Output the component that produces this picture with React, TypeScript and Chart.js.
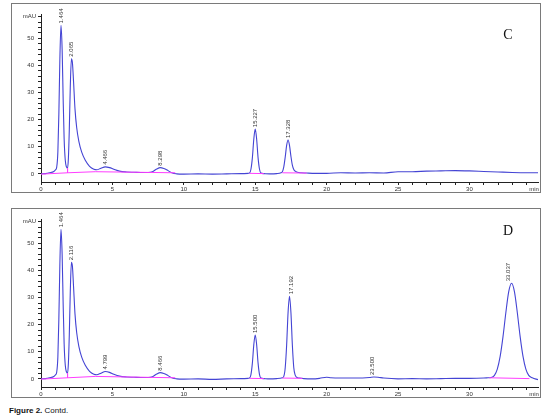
import React, { useEffect, useRef } from 'react';
import { Chart, registerables } from 'chart.js';

Chart.register(...registerables);

// ---------- Panel C data ----------
const timesC = [
  0, 0.3, 0.6, 0.9, 1.02, 1.1, 1.18, 1.25, 1.32, 1.4, 1.48, 1.55, 1.62, 1.7, 1.78, 1.86, 1.92, 1.98,
  2.05, 2.13, 2.2, 2.28, 2.38, 2.5, 2.65, 2.85, 3.1, 3.4, 3.7, 3.9, 4.2, 4.5, 4.8, 5.1, 5.5,
  6.0, 6.5, 7.0, 7.5, 7.8, 8.1, 8.35, 8.6, 8.9, 9.2, 9.5, 10, 11, 12, 13, 14, 14.5, 14.6, 14.7,
  14.8, 14.9, 15.0, 15.1, 15.2, 15.3, 15.4, 15.6, 16.0, 16.5, 16.8, 16.9, 17.0, 17.1, 17.2, 17.3,
  17.4, 17.5, 17.6, 17.7, 17.8, 17.95, 18.2, 18.6, 19, 20, 21, 22, 23, 24, 25, 26, 27, 28, 29, 30,
  31, 32, 33, 34, 34.8,
];
const signalC = [
  0, 0.1, 0.4, 0.9, 1.5, 2.5, 8, 22, 42, 54.8, 46, 28, 13, 5, 2.6, 2.1, 6, 16,
  32, 42.5, 41, 34, 24, 17, 12, 8, 5, 2.8, 1.7, 1.5, 2.1, 2.6, 2.3, 1.7, 1.0,
  0.7, 0.6, 0.5, 0.5, 0.8, 1.8, 2.3, 2.0, 1.2, 0.3, 0.0, -0.1, 0, -0.1, 0, 0.1, 0.2, 0.3, 1.7,
  5.9, 12.8, 16.5, 12.8, 5.9, 1.7, 0.3, 0.1, 0, 0.1, 0.4, 0.8, 2.6, 6.2, 10.5, 12.5,
  10.5, 6.5, 3.2, 1.6, 1.0, 0.6, 0.4, 0.3, 0.2, 0.2, 0.4, 0.3, 0.4, 0.3, 0.8, 0.8, 1.0, 1.1, 1.2, 1.1,
  0.9, 0.7, 0.5, 0.4, 0.4,
];
const baseTimesC = [0, 1.86, 1.86, 1.86, 3.8, 9.4, 9.5, 14.6, 15.6, 15.7, 16.9, 18.6];
const baseC = [-0.1, 0.4, 2.1, 0.4, 0.8, 0.4, null, 0.2, 0.1, null, 0.4, 0.3];
const peakTimesC = [1.4, 2.13, 4.5, 8.35, 15.0, 17.3];
const peakHeightsC = [54.8, 42.5, 2.6, 2.3, 16.5, 12.5];
const peakLabelsC = ['1.464', '2.065', '4.466', '8.298', '15.227', '17.328'];

// ---------- Panel D data ----------
const timesD = [
  0, 0.3, 0.6, 0.9, 1.02, 1.1, 1.18, 1.25, 1.32, 1.4, 1.48, 1.55, 1.62, 1.7, 1.78, 1.86, 1.92, 1.98,
  2.05, 2.13, 2.2, 2.28, 2.38, 2.5, 2.65, 2.85, 3.1, 3.4, 3.7, 3.9, 4.2, 4.5, 4.8, 5.1, 5.5,
  6.0, 6.5, 7.0, 7.5, 7.8, 8.1, 8.35, 8.6, 8.9, 9.2, 9.5, 10, 11, 12, 13, 14, 14.5, 14.6, 14.7,
  14.8, 14.9, 15.0, 15.1, 15.2, 15.3, 15.4, 15.6, 16.0, 16.5, 16.9, 17.0, 17.1, 17.2, 17.3, 17.4,
  17.5, 17.6, 17.7, 17.8, 17.9, 18.1, 18.4, 19, 19.5, 20, 20.3, 21, 22, 23, 23.3, 23.6, 24, 25, 26,
  27, 28, 29, 30, 31, 31.3, 31.5, 31.75, 31.95, 32.15, 32.35, 32.55, 32.75, 32.95, 33.15, 33.35,
  33.55, 33.75, 33.95, 34.15, 34.4, 34.8,
];
const signalD = [
  0, 0.1, 0.4, 0.9, 1.5, 2.5, 8, 22, 42, 55.2, 46, 28, 13, 5, 2.6, 2.1, 6, 16,
  32, 43, 41.5, 34, 24, 17, 12, 8, 5, 2.8, 1.7, 1.5, 2.1, 2.7, 2.4, 1.7, 1.0,
  0.7, 0.6, 0.5, 0.5, 0.8, 1.8, 2.3, 2.0, 1.2, 0.3, 0.0, -0.1, 0, -0.2, 0, 0.1, 0.2, 0.3, 1.6,
  5.8, 12.6, 16.2, 12.6, 5.8, 1.6, 0.3, 0.1, 0, 0.1, 0.4, 0.9, 4.1, 12.5, 24.5, 30.5,
  24.5, 12.5, 4.1, 1.4, 0.6, 0.3, 0.1, 0, 0.2, 0.6, 0.4, 0.3, 0.3, 0.5, 0.7, 0.6, 0.3, 0, 0.1,
  0, 0.1, 0.2, 0.2, 0.3, 0.4, 0.5, 1.3, 3.6, 8.3, 15.6, 24.5, 32.2, 35.3, 32.2, 24.5, 15.6,
  8.3, 3.6, 1.3, 0.4, -0.3, 0.2, 0.2,
];
const baseTimesD = [0, 1.86, 1.86, 1.86, 3.8, 9.4, 9.5, 14.6, 15.6, 15.7, 16.9, 18.3, 18.4, 31.4, 34.2];
const baseD = [-0.1, 0.4, 2.1, 0.4, 0.9, 0.4, null, 0.2, 0.1, null, 0.3, 0.2, null, 0.4, 0.1];
const peakTimesD = [1.4, 2.13, 4.5, 8.35, 15.0, 17.5, 23.2, 32.75];
const peakHeightsD = [55.2, 43, 2.7, 2.3, 16.2, 30.5, 0.7, 35.3];
const peakLabelsD = ['1.464', '2.116', '4.799', '8.466', '15.500', '17.192', '23.500', '33.037'];

// ---------- Axes ----------
const xTickValues = Array.from({ length: 35 }, (_, i) => i);
const xLabelValues = [0, 5, 10, 15, 20, 25, 30];
const yTickValues = Array.from({ length: 30 }, (_, i) => i * 2);
const yLabelValues = [0, 10, 20, 30, 40, 50];

const TRACE = '#4444d4';
const BASE = '#ff3cff';
const AXIS = '#222222';
const TEXT = '#333333';

function toPoints(ts: number[], vs: (number | null)[]) {
  return ts.map((t, i) => ({ x: t, y: vs[i] }));
}

type PanelProps = {
  top: number;
  letter: string;
  letterY: number;
  times: number[];
  signal: number[];
  baseTimes: number[];
  base: (number | null)[];
  peakTimes: number[];
  peakHeights: number[];
  peakLabels: string[];
};

function Panel(p: PanelProps) {
  const ref = useRef<HTMLCanvasElement | null>(null);
  useEffect(() => {
    if (!ref.current) return;
    const overlay = {
      id: 'overlay',
      afterDraw(chart: any) {
        const ctx = chart.ctx;
        const xs = chart.scales.x;
        const ys = chart.scales.y;
        const area = chart.chartArea;
        ctx.save();
        // frame
        ctx.strokeStyle = '#7a7a7a';
        ctx.lineWidth = 1;
        ctx.strokeRect(11.5, 3.5, 529, 189);
        // letter
        ctx.fillStyle = '#111';
        ctx.font = '14px "Liberation Serif", serif';
        ctx.textAlign = 'center';
        ctx.textBaseline = 'middle';
        ctx.fillText(p.letter, 508, p.letterY);
        // mAU / min
        ctx.fillStyle = TEXT;
        ctx.font = '6px "Liberation Sans", Arial, sans-serif';
        ctx.textAlign = 'right';
        ctx.fillText('mAU', area.left - 5, area.top + 2);
        ctx.textAlign = 'center';
        ctx.fillText('min', area.right - 4, area.bottom + 7);
        // peak labels
        ctx.font = '6px "Liberation Sans", Arial, sans-serif';
        ctx.fillStyle = TEXT;
        for (let i = 0; i < p.peakTimes.length; i++) {
          const x = xs.getPixelForValue(p.peakTimes[i]);
          const y = ys.getPixelForValue(p.peakHeights[i]) - 2;
          ctx.save();
          ctx.translate(x, y);
          ctx.rotate(-Math.PI / 2);
          ctx.textAlign = 'left';
          ctx.textBaseline = 'middle';
          ctx.fillText(p.peakLabels[i], 0, 0);
          ctx.restore();
        }
        ctx.restore();
      },
    };
    const chart = new Chart(ref.current, {
      type: 'line',
      data: {
        datasets: [
          {
            data: toPoints(p.baseTimes, p.base) as any,
            borderColor: BASE,
            borderWidth: 1,
            pointRadius: 0,
            spanGaps: false,
            tension: 0,
          },
          {
            data: toPoints(p.times, p.signal) as any,
            borderColor: TRACE,
            borderWidth: 1.1,
            pointRadius: 0,
            cubicInterpolationMode: 'monotone',
          },
        ],
      },
      options: {
        animation: false,
        responsive: false,
        maintainAspectRatio: false,
        layout: { padding: { left: 0, right: 16, top: 14, bottom: 0 } },
        plugins: { legend: { display: false }, tooltip: { enabled: false } },
        scales: {
          x: {
            type: 'linear',
            min: 0,
            max: 34.8,
            afterBuildTicks: (axis: any) => {
              axis.ticks = xTickValues.map((v) => ({ value: v }));
            },
            afterFit: (axis: any) => {
              axis.height = 18;
            },
            ticks: {
              autoSkip: false,
              maxRotation: 0,
              padding: 1,
              color: TEXT,
              font: { size: 6, family: '"Liberation Sans", Arial, sans-serif' },
              callback: (v: any) => (xLabelValues.includes(Number(v)) ? String(v) : ''),
            },
            grid: { display: true, drawOnChartArea: false, tickLength: 3, color: AXIS },
            border: { display: true, color: AXIS, width: 1 },
          },
          y: {
            type: 'linear',
            min: -3,
            max: 59,
            afterBuildTicks: (axis: any) => {
              axis.ticks = yTickValues.map((v) => ({ value: v }));
            },
            afterFit: (axis: any) => {
              axis.width = 41;
            },
            ticks: {
              autoSkip: false,
              padding: 4,
              color: TEXT,
              font: { size: 6, family: '"Liberation Sans", Arial, sans-serif' },
              callback: (v: any) => (yLabelValues.includes(Number(v)) ? String(v) : ''),
            },
            grid: { display: true, drawOnChartArea: false, tickLength: 3, color: AXIS },
            border: { display: true, color: AXIS, width: 1 },
          },
        },
      },
      plugins: [overlay],
    });
    return () => chart.destroy();
  }, []);
  return (
    <canvas
      ref={ref}
      width={554}
      height={200}
      style={{ position: 'absolute', left: 0, top: p.top, width: 554, height: 200 }}
    />
  );
}

export default function App() {
  return (
    <div style={{ position: 'absolute', left: 0, top: 0, width: 554, height: 418, background: '#fff', overflow: 'hidden' }}>
      <Panel
        top={0}
        letter="C"
        letterY={35}
        times={timesC}
        signal={signalC}
        baseTimes={baseTimesC}
        base={baseC}
        peakTimes={peakTimesC}
        peakHeights={peakHeightsC}
        peakLabels={peakLabelsC}
      />
      <Panel
        top={205}
        letter="D"
        letterY={26}
        times={timesD}
        signal={signalD}
        baseTimes={baseTimesD}
        base={baseD}
        peakTimes={peakTimesD}
        peakHeights={peakHeightsD}
        peakLabels={peakLabelsD}
      />
      <div
        style={{
          position: 'absolute',
          left: 9,
          top: 406,
          fontFamily: '"Liberation Sans", Arial, sans-serif',
          fontSize: 8,
          color: '#111',
          whiteSpace: 'nowrap',
          lineHeight: '10px',
        }}
      >
        <b>Figure 2.</b> Contd.
      </div>
    </div>
  );
}
